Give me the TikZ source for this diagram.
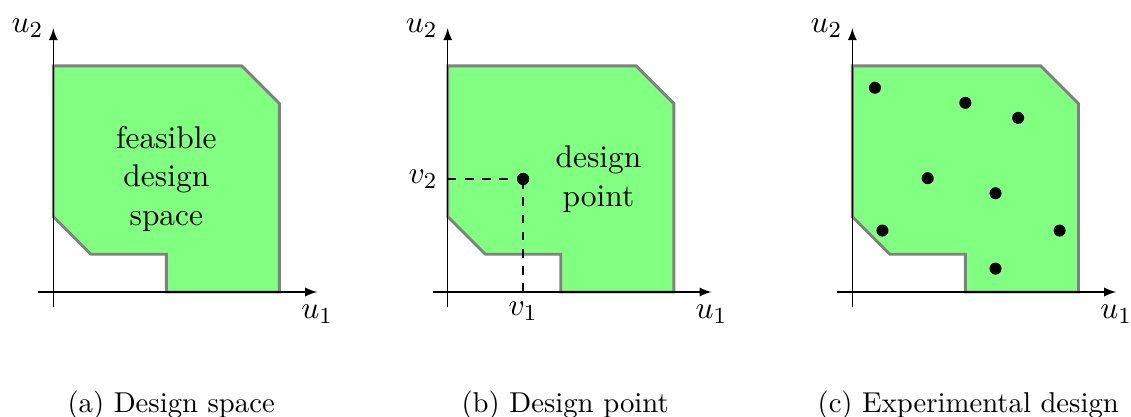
\documentclass[tikz,border=0pt]{standalone}
\usetikzlibrary{arrows}
\tikzset{
  region/.style={fill=green!50, draw=gray, line width=1pt, line join=miter},
  axis/.style={-latex, line width=0.45pt},
  dot/.style={circle, fill=black, inner sep=0pt, minimum size=4.2pt},
  lbl/.style={font=\fontsize{10.95}{13.4}\selectfont},
  captext/.style={font=\fontsize{10}{12}\selectfont, anchor=base west, inner sep=0pt},
  guide/.style={dashed, line width=0.45pt},
  panel/.style={x=13.13pt, y=13.13pt},
}
\newcommand\designregion[1]{%
  \draw[region] (0,2) -- (0,6) -- (5,6) -- (6,5) -- (6,0) -- (3,0) -- (3,1) -- (1,1) -- cycle;
  \coordinate (#1x0) at (-0.4,0);
  \coordinate (#1x1) at (7,0);
  \coordinate (#1y0) at (0,-0.4);
  \coordinate (#1y1) at (0,7);
  \draw[axis] (#1x0) -- (#1x1);
  \draw[axis] (#1y0) -- (#1y1);
  \node[lbl, below, yshift=-1pt] (#1u1) at (#1x1) {$u_1$};
  \node[lbl, left] (#1u2) at (#1y1) {$u_2$};
}
\begin{document}
\begin{tikzpicture}[x=0.3484pt, y=-0.3484pt]
\useasboundingbox (0,0) rectangle (1131,417);

% (a)
\begin{scope}[shift={(53.3*0.3484pt,-292*0.3484pt)}, panel]
  \designregion{a}
  \node[lbl, align=center] (feas) at (3,3) {feasible\\design\\space};
\end{scope}

% (b)
\begin{scope}[shift={(447.7*0.3484pt,-292*0.3484pt)}, panel]
  \designregion{b}
  \coordinate (v2ax) at (0,3);
  \coordinate (v1ax) at (2,0);
  \node[dot] (pt) at (2,3) {};
  \draw[guide] (v2ax) -- (pt.center);
  \draw[guide] (v1ax) -- (pt.center);
  \node[dot] at (pt) {};
  \node[lbl, left] (v2) at (v2ax) {$v_2$};
  \node[lbl, below] (v1) at (v1ax) {$v_1$};
  \node[lbl, align=center] (dp) at (4,3) {design\\point};
\end{scope}

% (c)
\begin{scope}[shift={(852.3*0.3484pt,-292*0.3484pt)}, panel]
  \designregion{c}
  \node[dot] (p1) at (0.6,5.42) {};
  \node[dot] (p2) at (3.0,5.02) {};
  \node[dot] (p3) at (4.4,4.62) {};
  \node[dot] (p4) at (2.0,3.02) {};
  \node[dot] (p5) at (3.8,2.62) {};
  \node[dot] (p6) at (0.8,1.63) {};
  \node[dot] (p7) at (5.5,1.63) {};
  \node[dot] (p8) at (3.8,0.62) {};
\end{scope}

\node[captext] (capa) at (67,412) {(a) Design space};
\node[captext] (capb) at (461,412) {(b) Design point};
\node[captext] (capc) at (817,412) {(c) Experimental design};
\end{tikzpicture}
\end{document}
